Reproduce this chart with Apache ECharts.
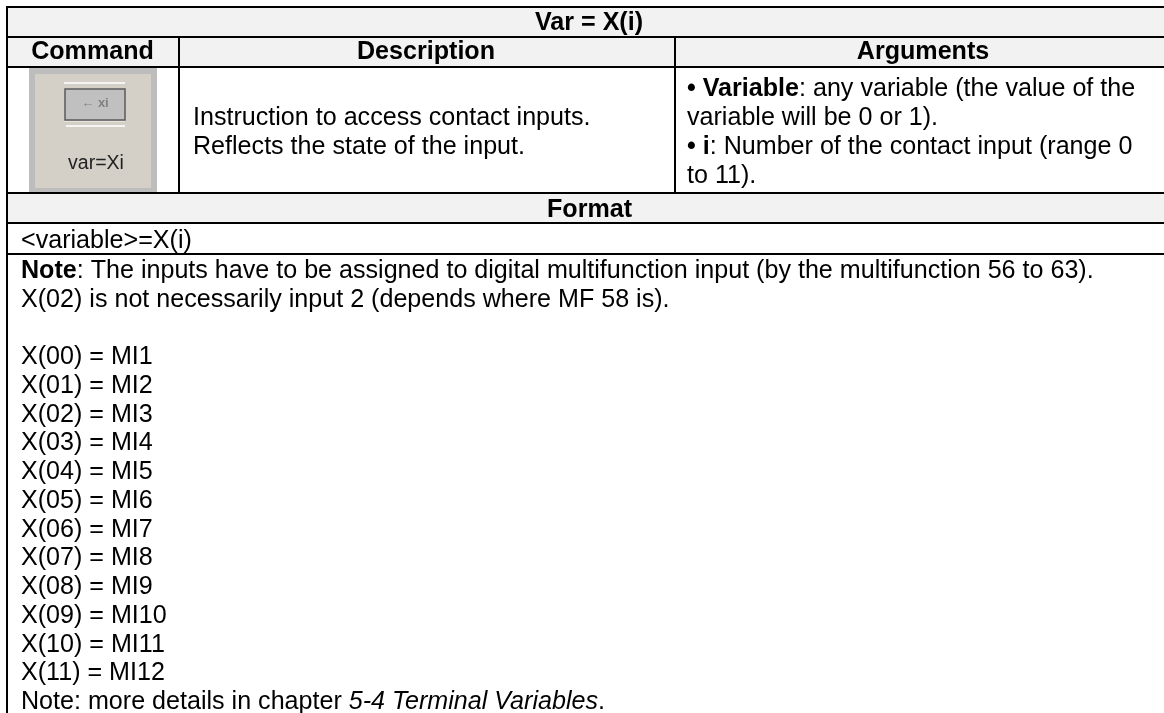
<!DOCTYPE html>
<html>
<head>
<meta charset="utf-8">
<title>Var = X(i)</title>
<script src="https://cdn.jsdelivr.net/npm/echarts@6/dist/echarts.min.js"></script>
<style>
* { margin: 0; padding: 0; }
body { background: #fff; overflow: hidden; }
#main { width: 1164px; height: 713px; }
</style>
</head>
<body>
<div id="main"></div>
<script>
// table content
let titleText = 'Var = X(i)';
let headerTexts = ['Command', 'Description', 'Arguments'];
let iconLabel = 'var=Xi';
let iconButton = '← xi';
let descLines = ['Instruction to access contact inputs.', 'Reflects the state of the input.'];
let argLines = [
	'{b|• Variable}{n|: any variable (the value of the}',
	'{n|variable will be 0 or 1).}',
	'{b|• i}{n|: Number of the contact input (range 0}',
	'{n|to 11).}'
];
let formatTitle = 'Format';
let formatLine = '<variable>=X(i)';
let noteLines = [
	'{b|Note}{n|: The inputs have to be assigned to digital multifunction input (by the multifunction 56 to 63).}',
	'{n|X(02) is not necessarily input 2 (depends where MF 58 is).}',
	'',
	'{n|X(00) = MI1}',
	'{n|X(01) = MI2}',
	'{n|X(02) = MI3}',
	'{n|X(03) = MI4}',
	'{n|X(04) = MI5}',
	'{n|X(05) = MI6}',
	'{n|X(06) = MI7}',
	'{n|X(07) = MI8}',
	'{n|X(08) = MI9}',
	'{n|X(09) = MI10}',
	'{n|X(10) = MI11}',
	'{n|X(11) = MI12}',
	'{n|Note: more details in chapter }{i|5-4 Terminal Variables}{n|.}'
];

let myFont = '"Liberation Sans", Arial, sans-serif';
let fontSize = 25.1;
let ink = '#000000';

// grid lines of the table
let left = 7, right = 1164;
let rowY = [7, 37, 67, 193, 223, 254];
let colX = [179, 675];

function hLine(y, x1, x2) {
	return { type: 'rect', shape: { x: x1, y: y - 1, width: x2 - x1, height: 2 }, style: { fill: ink }, z: 5 };
}
function vLine(x, y1, y2) {
	return { type: 'rect', shape: { x: x - 1, y: y1, width: 2, height: y2 - y1 }, style: { fill: ink }, z: 5 };
}
function band(y1, y2) {
	return { type: 'rect', shape: { x: left, y: y1, width: right - left, height: y2 - y1 }, style: { fill: '#f2f2f2' } };
}
function richLine(text, x, y) {
	return {
		type: 'text', x: x, y: y, z: 6,
		style: {
			text: text, verticalAlign: 'middle',
			rich: {
				n: { fontFamily: myFont, fontSize: fontSize, fill: ink },
				b: { fontFamily: myFont, fontSize: fontSize, fontWeight: 'bold', fill: ink },
				i: { fontFamily: myFont, fontSize: fontSize, fontStyle: 'italic', fill: ink }
			}
		}
	};
}
function plainText(text, x, y, align, weight) {
	return {
		type: 'text', x: x, y: y, z: 6,
		style: { text: text, align: align, verticalAlign: 'middle', fontFamily: myFont, fontSize: fontSize, fontWeight: weight, fill: ink }
	};
}

let elements = [
	band(rowY[0], rowY[2]),
	band(rowY[3], rowY[4]),
	// icon picture
	{ type: 'rect', shape: { x: 29, y: 68, width: 128, height: 125 }, style: { fill: '#bdbdbd' } },
	{ type: 'rect', shape: { x: 35, y: 74, width: 116, height: 114 }, style: { fill: '#d4d0c8' } },
	{ type: 'rect', shape: { x: 64, y: 82, width: 61, height: 2 }, style: { fill: '#f4f4f2' } },
	{ type: 'rect', shape: { x: 64, y: 121, width: 61, height: 1 }, style: { fill: '#e6e4df' } },
	{ type: 'rect', shape: { x: 66, y: 125, width: 59, height: 2 }, style: { fill: '#f4f4f2' } },
	{ type: 'rect', shape: { x: 65, y: 89, width: 60, height: 31 }, style: { fill: '#c0c0c0', stroke: '#5a5a5a', lineWidth: 1.5 } },
	{ type: 'text', x: 95, y: 103, style: { text: iconButton, align: 'center', verticalAlign: 'middle', fontFamily: myFont, fontSize: 13, fontWeight: 'bold', fill: '#808080' } },
	{ type: 'text', x: 96, y: 164, style: { text: iconLabel, align: 'center', verticalAlign: 'middle', fontFamily: myFont, fontSize: 19.5, fill: '#222222' } },
	// text
	plainText(titleText, 589, 23, 'center', 'bold'),
	plainText(headerTexts[0], 92.5, 52, 'center', 'bold'),
	plainText(headerTexts[1], 426, 52, 'center', 'bold'),
	plainText(headerTexts[2], 923, 52, 'center', 'bold'),
	plainText(descLines[0], 193, 118, 'left', 'normal'),
	plainText(descLines[1], 193, 147, 'left', 'normal'),
	plainText(formatTitle, 589.5, 210, 'center', 'bold'),
	plainText(formatLine, 21, 241, 'left', 'normal')
];
let argY = [89, 118, 147, 176];
argLines.forEach((item, index) => {
	elements.push(richLine(item, 687, argY[index]));
});
noteLines.forEach((item, index) => {
	if (item) elements.push(richLine(item, 21, 271 + index * 28.75));
});
// rules
rowY.forEach((y) => {
	elements.push(hLine(y, left - 1, right));
});
elements.push(vLine(left, 6, 713));
colX.forEach((x) => {
	elements.push(vLine(x, rowY[1], rowY[3]));
});

let myChart = echarts.init(document.getElementById('main'));
myChart.setOption({
	animation: false,
	backgroundColor: '#ffffff',
	graphic: { elements: elements }
});
</script>
</body>
</html>
